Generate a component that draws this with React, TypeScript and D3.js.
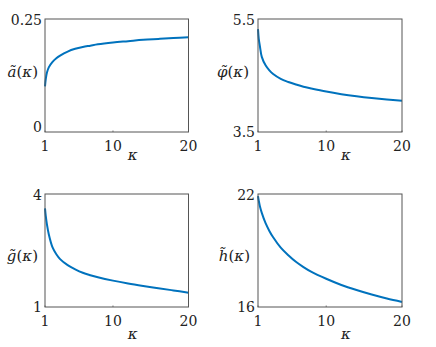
import React from 'react';
import * as d3 from 'd3';

// kappa samples shared by all four curves
const kappa = [1, 1.1, 1.25, 1.5, 2, 2.5, 3, 4, 5, 6, 7, 8, 10, 12, 14, 16, 18, 20];

const aTilde = [0.101, 0.117, 0.131, 0.143, 0.155, 0.163, 0.169, 0.178, 0.184, 0.188, 0.191, 0.194, 0.198, 0.201, 0.204, 0.206, 0.208, 0.2095];
const phiTilde = [5.32, 5.15, 5.02, 4.83, 4.68, 4.59, 4.525, 4.44, 4.385, 4.34, 4.3, 4.27, 4.215, 4.17, 4.133, 4.102, 4.076, 4.054];
const gTilde = [3.62, 3.42, 3.2, 2.93, 2.58, 2.4, 2.27, 2.11, 2.0, 1.91, 1.845, 1.79, 1.7, 1.625, 1.56, 1.5, 1.44, 1.38];
const hTilde = [21.89, 21.65, 21.35, 21.0, 20.45, 20.04, 19.7, 19.15, 18.75, 18.4, 18.12, 17.88, 17.5, 17.17, 16.9, 16.66, 16.45, 16.27];

const xTicks = [1, 10, 20];

const panels = [
  { values: aTilde, yDomain: [0, 0.25], yTickLabels: ['0', '0.25'], sym: 'ã', x0: 45, x1: 188.5, y0: 19, y1: 132, labGap: 7, labY: 72, kY: 155, lowShift: -5 },
  { values: phiTilde, yDomain: [3.5, 5.5], yTickLabels: ['3.5', '5.5'], sym: 'φ\u0303', x0: 258, x1: 402, y0: 19, y1: 132, labGap: 9, labY: 72, kY: 155, lowShift: 0 },
  { values: gTilde, yDomain: [1, 4], yTickLabels: ['1', '4'], sym: 'g\u0303', x0: 45, x1: 188.5, y0: 194, y1: 307, labGap: 7, labY: 256, kY: 334, lowShift: 0 },
  { values: hTilde, yDomain: [16, 22], yTickLabels: ['16', '22'], sym: 'h\u0303', x0: 258, x1: 402, y0: 194, y1: 307, labGap: 8, labY: 256, kY: 334, lowShift: 0 },
];

const fontStyle = { fontFamily: 'DejaVu Serif' };
const LINE = '#0072BD';
const AXIS = '#555555';

function Panel({ p }: { p: typeof panels[number] }) {
  const x = d3.scaleLinear().domain([1, 20]).range([p.x0, p.x1]);
  const y = d3.scaleLinear().domain(p.yDomain).range([p.y1, p.y0]);
  const line = d3.line<number>()
    .x((_, i) => x(kappa[i]))
    .y((d) => y(d))
    .curve(d3.curveCatmullRom.alpha(0.5));

  return (
    <g style={fontStyle}>
      <path d={line(p.values) || ''} fill="none" stroke={LINE} strokeWidth={2} />
      <rect x={p.x0} y={p.y0} width={p.x1 - p.x0} height={p.y1 - p.y0} fill="none" stroke={AXIS} strokeWidth={1} />
      {xTicks.map((t) => (
        <g key={t}>
          <line x1={x(t)} x2={x(t)} y1={p.y1} y2={p.y1 - 1.5} stroke={AXIS} strokeWidth={0.8} />
          <text x={x(t)} y={p.y1 + 14} textAnchor="middle" dominantBaseline="central" fontSize={14} fill="#222">
            {t}
          </text>
        </g>
      ))}
      {p.yDomain.map((v, i) => (
        <text key={i} x={p.x0 - 3} y={y(v) + (i === 0 ? p.lowShift : 1)} textAnchor="end" dominantBaseline="central" fontSize={14} fill="#222">
          {p.yTickLabels[i]}
        </text>
      ))}
      <text x={(p.x0 + p.x1) / 2 + 16} y={p.kY} textAnchor="middle" dominantBaseline="central" fontSize={15} fontStyle="italic" fill="#222">
        κ
      </text>
      <text x={p.x0 - p.labGap} y={p.labY} textAnchor="end" dominantBaseline="central" fontSize={15} fill="#222">
        <tspan fontStyle="italic">{p.sym}</tspan>
        <tspan>(</tspan>
        <tspan fontStyle="italic">κ</tspan>
        <tspan>)</tspan>
      </text>
    </g>
  );
}

export default function App() {
  return (
    <div style={{ position: 'fixed', left: 0, top: 0, width: 436, height: 347, background: '#fff' }}>
      <svg width={436} height={347} viewBox="0 0 436 347" style={{ display: 'block' }}>
        <rect width={436} height={347} fill="#fff" />
        {panels.map((p, i) => (
          <Panel key={i} p={p} />
        ))}
      </svg>
    </div>
  );
}
